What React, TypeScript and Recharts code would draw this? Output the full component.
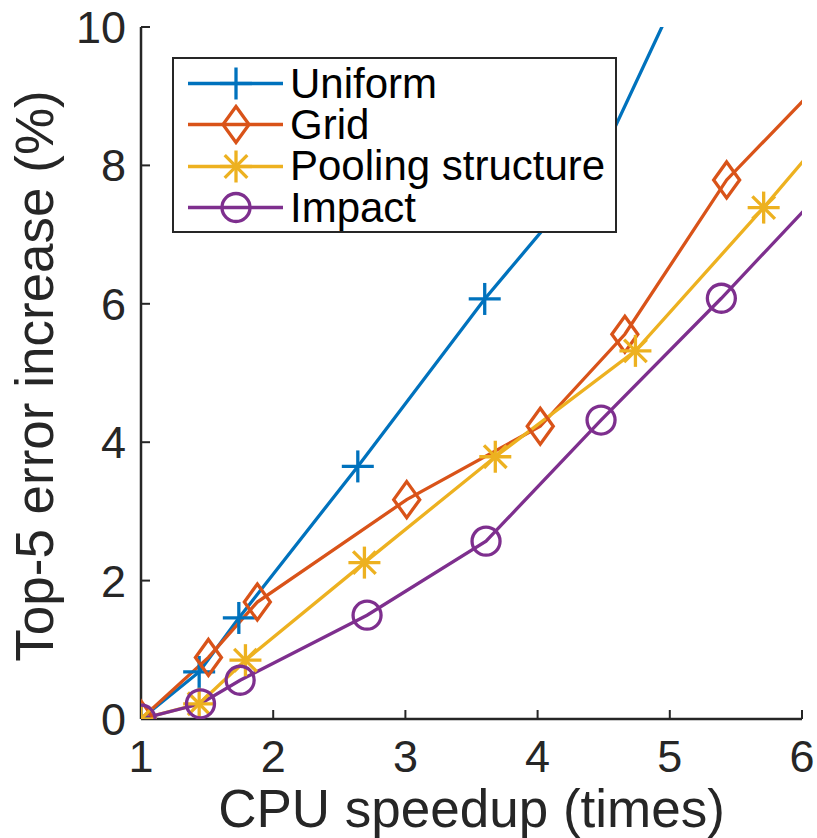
import React from 'react';
import { LineChart, Line, XAxis, YAxis, Legend } from 'recharts';

// speedup (x) vs. top-5 error increase in % (y); last point of each run lies past the axes
const uniform = [
  { x: 1.0, y: 0.0 }, { x: 1.44, y: 0.68 }, { x: 1.74, y: 1.46 }, { x: 2.64, y: 3.65 },
  { x: 3.6, y: 6.07 }, { x: 4.45, y: 8.0 }, { x: 5.2, y: 11.06 },
];
const grid = [
  { x: 1.0, y: 0.0 }, { x: 1.51, y: 0.89 }, { x: 1.88, y: 1.69 }, { x: 3.01, y: 3.17 },
  { x: 4.02, y: 4.23 }, { x: 4.66, y: 5.56 }, { x: 5.43, y: 7.79 }, { x: 6.4, y: 9.71 },
];
const pooling = [
  { x: 1.0, y: 0.0 }, { x: 1.44, y: 0.22 }, { x: 1.79, y: 0.85 }, { x: 2.69, y: 2.26 },
  { x: 3.68, y: 3.79 }, { x: 4.74, y: 5.32 }, { x: 5.71, y: 7.39 }, { x: 6.4, y: 8.94 },
];
const impact = [
  { x: 1.0, y: 0.0 }, { x: 1.45, y: 0.22 }, { x: 1.75, y: 0.56 }, { x: 2.71, y: 1.5 },
  { x: 3.61, y: 2.57 }, { x: 4.48, y: 4.32 }, { x: 5.39, y: 6.08 }, { x: 6.4, y: 8.13 },
];

const xTicks = [1, 2, 3, 4, 5, 6];
const yTicks = [0, 2, 4, 6, 8, 10];

type Shape = 'plus' | 'diamond' | 'star' | 'circle';

const series: { name: string; color: string; shape: Shape; data: { x: number; y: number }[] }[] = [
  { name: 'Uniform', color: '#0072BD', shape: 'plus', data: uniform },
  { name: 'Grid', color: '#D95319', shape: 'diamond', data: grid },
  { name: 'Pooling structure', color: '#EDB120', shape: 'star', data: pooling },
  { name: 'Impact', color: '#7E2F8E', shape: 'circle', data: impact },
];

const AXIS = '#262626';
const FONT = '"Liberation Sans", Arial, Helvetica, sans-serif';
const LW = 3.3;

const Marker = ({ shape, cx, cy, color }: { shape: Shape; cx: number; cy: number; color: string }) => {
  if (shape === 'plus') {
    return (
      <g stroke={color} strokeWidth={LW}>
        <line x1={cx - 16} y1={cy} x2={cx + 16} y2={cy} />
        <line x1={cx} y1={cy - 16} x2={cx} y2={cy + 16} />
      </g>
    );
  }
  if (shape === 'diamond') {
    const pts = `${cx},${cy - 18} ${cx + 13},${cy} ${cx},${cy + 18} ${cx - 13},${cy}`;
    return <polygon points={pts} fill="none" stroke={color} strokeWidth={LW} />;
  }
  if (shape === 'star') {
    const d = 11.3;
    return (
      <g stroke={color} strokeWidth={LW}>
        <line x1={cx - 16} y1={cy} x2={cx + 16} y2={cy} />
        <line x1={cx} y1={cy - 16} x2={cx} y2={cy + 16} />
        <line x1={cx - d} y1={cy - d} x2={cx + d} y2={cy + d} />
        <line x1={cx - d} y1={cy + d} x2={cx + d} y2={cy - d} />
      </g>
    );
  }
  return <circle cx={cx} cy={cy} r={14} fill="none" stroke={color} strokeWidth={LW} />;
};

const LegendBox = () => (
  <div
    style={{
      width: 445,
      height: 176,
      boxSizing: 'border-box',
      background: '#fff',
      border: `2px solid ${AXIS}`,
      paddingTop: 4,
      fontFamily: FONT,
    }}
  >
    {series.map((s) => (
      <div key={s.name} style={{ display: 'flex', alignItems: 'center', height: 41.3 }}>
        <svg width={116} height={41} style={{ flex: 'none' }}>
          <line x1={14} y1={20.5} x2={109} y2={20.5} stroke={s.color} strokeWidth={LW} />
          <Marker shape={s.shape} cx={62} cy={20.5} color={s.color} />
        </svg>
        <span style={{ fontSize: 42, color: '#000', lineHeight: '36px', whiteSpace: 'nowrap' }}>{s.name}</span>
      </div>
    ))}
  </div>
);

const XTitle = (props: any) => {
  const { x, y, width } = props.viewBox;
  return (
    <text x={x + width / 2} y={y + 108} textAnchor="middle" fontSize={53} fill={AXIS}>
      CPU speedup (times)
    </text>
  );
};

const YTitle = (props: any) => {
  const { y, height } = props.viewBox;
  const cx = 53;
  const cy = y + height / 2 + 3;
  return (
    <text x={cx} y={cy} transform={`rotate(-90 ${cx} ${cy})`} textAnchor="middle" fontSize={53} fill={AXIS}>
      Top-5 error increase (%)
    </text>
  );
};

export default function App() {
  return (
    <div style={{ position: 'absolute', left: 0, top: 0, width: 817, height: 838, background: '#fff', fontFamily: FONT }}>
      <LineChart width={817} height={838} margin={{ top: 27, right: 15, left: 0, bottom: 0 }}>
        <XAxis
          xAxisId="bottom"
          dataKey="x"
          type="number"
          domain={[1, 6]}
          ticks={xTicks}
          interval={0}
          allowDataOverflow
          height={119}
          tickSize={-9}
          tickMargin={30}
          axisLine={{ stroke: AXIS, strokeWidth: 2.5 }}
          tickLine={{ stroke: AXIS, strokeWidth: 2 }}
          tick={{ fill: AXIS, fontSize: 45 }}
          label={<XTitle />}
        />
        <XAxis
          xAxisId="top"
          orientation="top"
          dataKey="x"
          type="number"
          domain={[1, 6]}
          ticks={xTicks}
          interval={0}
          allowDataOverflow
          height={0}
          tickSize={-9}
          tick={false}
          axisLine={{ stroke: AXIS, strokeWidth: 2.5 }}
          tickLine={{ stroke: AXIS, strokeWidth: 2 }}
        />
        <YAxis
          yAxisId="left"
          type="number"
          domain={[0, 10]}
          ticks={yTicks}
          interval={0}
          allowDataOverflow
          width={141}
          tickSize={-9}
          tickMargin={24}
          axisLine={{ stroke: AXIS, strokeWidth: 2.5 }}
          tickLine={{ stroke: AXIS, strokeWidth: 2 }}
          tick={{ fill: AXIS, fontSize: 45 }}
          label={<YTitle />}
        />
        <YAxis
          yAxisId="right"
          orientation="right"
          type="number"
          domain={[0, 10]}
          ticks={yTicks}
          interval={0}
          allowDataOverflow
          width={0}
          tickSize={-9}
          tick={false}
          axisLine={{ stroke: AXIS, strokeWidth: 2.5 }}
          tickLine={{ stroke: AXIS, strokeWidth: 2 }}
        />
        {series.map((s) => (
          <Line
            key={s.name}
            xAxisId="bottom"
            yAxisId="left"
            data={s.data}
            dataKey="y"
            name={s.name}
            type="linear"
            stroke={s.color}
            strokeWidth={LW}
            isAnimationActive={false}
            activeDot={false}
            dot={(p: any) => (
              <Marker key={`${s.name}-${p.index}`} shape={s.shape} cx={p.cx} cy={p.cy} color={s.color} />
            )}
          />
        ))}
        <Legend
          layout="vertical"
          align="center"
          verticalAlign="middle"
          content={<LegendBox />}
          wrapperStyle={{ left: 172, top: 57, width: 445, height: 176 }}
        />
      </LineChart>
    </div>
  );
}
